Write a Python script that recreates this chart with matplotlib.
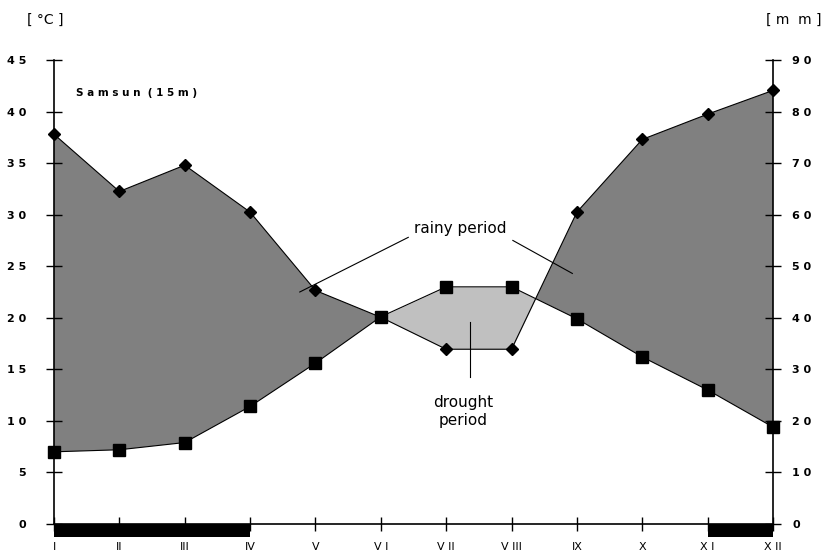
import numpy as np
import matplotlib
matplotlib.use("Agg")
import matplotlib.pyplot as plt

# Samsun climate diagram (Walter-Lieth style)
months = ["I", "II", "III", "IV", "V", "V I", "V II", "V III", "IX", "X", "X I", "X II"]
temp_c = [7.0, 7.2, 7.9, 11.4, 15.6, 20.1, 23.0, 23.0, 19.9, 16.2, 13.0, 9.4]
prec_mm = [75.6, 64.5, 69.6, 60.5, 45.3, 40.1, 33.9, 33.9, 60.5, 74.6, 79.5, 84.1]
frost_spans = [(1, 4), (11, 12)]
temp_ticks = list(range(0, 50, 5))
prec_ticks = list(range(0, 100, 10))

x = np.arange(1, len(months) + 1)
t = np.array(temp_c)
p = np.array(prec_mm) / 2.0   # 10 mm = 5 degC

fig = plt.figure(figsize=(8.23, 5.56), dpi=100)
ax = fig.add_axes([54 / 823, 1 - 524 / 556, 719 / 823, 464 / 556])
ax2 = ax.twinx()

ax.fill_between(x, t, p, where=p >= t, interpolate=True, color="#808080", lw=0)
ax.fill_between(x, t, p, where=p <= t, interpolate=True, color="#c0c0c0", lw=0)
ax.plot(x, t, color="black", lw=0.8, marker="s", ms=8, mfc="black", mec="black", clip_on=False, zorder=5)
ax.plot(x, p, color="black", lw=0.8, marker="D", ms=6, mfc="black", mec="black", clip_on=False, zorder=5)

# black bars under the axis
for a, b in frost_spans:
    ax.fill_between([a, b], [0, 0], [-1.3, -1.3], color="black", lw=0, clip_on=False)

ax.set_xlim(1, 12)
ax.set_ylim(0, 45)
ax2.set_ylim(0, 90)

for a_ in (ax, ax2):
    a_.spines["top"].set_visible(False)
ax.spines["right"].set_visible(False)
ax2.spines["left"].set_visible(False)
ax2.spines["bottom"].set_visible(False)
for s in ["left", "bottom"]:
    ax.spines[s].set_linewidth(1.2)
ax2.spines["right"].set_linewidth(1.2)

spaced = lambda v: " ".join(str(v))
ax.set_yticks(temp_ticks)
ax.set_yticklabels([spaced(v) for v in temp_ticks])
ax2.set_yticks(prec_ticks)
ax2.set_yticklabels([spaced(v) for v in prec_ticks])
ax.set_xticks(x)
ax.set_xticklabels(months)

ax.tick_params(axis="y", direction="inout", length=12, width=1, labelsize=8, pad=14)
ax2.tick_params(axis="y", direction="inout", length=12, width=1, labelsize=8, pad=8)
ax.tick_params(axis="x", direction="inout", length=10, width=1, labelsize=8, pad=8)
for lab in ax.get_yticklabels() + ax2.get_yticklabels():
    lab.set_fontweight("bold")

fig.text(27 / 823, 1 - 20 / 556, "[ °C ]", fontsize=10, ha="left", va="center")
fig.text(821 / 823, 1 - 20 / 556, "[ m  m ]", fontsize=10, ha="right", va="center")
ax.text(1.34, 41.8, "S a m s u n  ( 1 5 m )", fontsize=7.5, fontweight="bold", ha="left", va="center")

# annotations
ax.text(7.21, 28.7, "rainy period", fontsize=11, ha="center", va="center")
ax.plot([4.76, 6.42], [22.5, 27.8], color="black", lw=0.8)
ax.plot([8.02, 8.93], [27.5, 24.3], color="black", lw=0.8)
ax.text(7.26, 10.9, "drought\nperiod", fontsize=11, ha="center", va="center", linespacing=1.25)
ax.plot([7.36, 7.36], [19.6, 14.3], color="black", lw=0.8)

fig.savefig("out.png", dpi=100)
